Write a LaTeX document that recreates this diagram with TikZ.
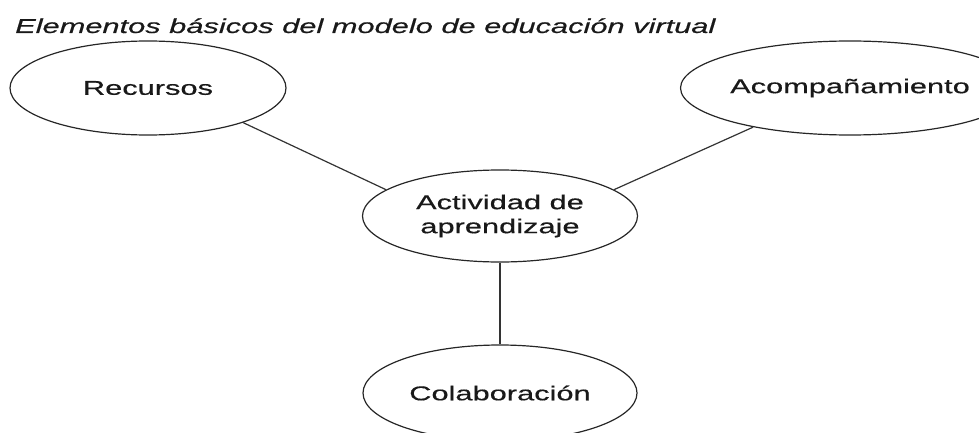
\documentclass[tikz,border=0pt]{standalone}
\usepackage{fontspec}
\setmainfont{Liberation Sans}
\newfontfamily\labfont[FakeStretch=1.54,FakeBold=0.5]{Liberation Sans}
\usetikzlibrary{shapes.geometric}
\tikzset{
  elem/.style={ellipse, draw=black!85, line width=1.2pt, inner sep=0pt,
    font=\labfont\fontsize{20}{24}\selectfont, align=center, text=black!90},
  link/.style={draw=black!80, line width=1.2pt}
}
\begin{document}
\begin{tikzpicture}[x=1pt,y=1pt]
\useasboundingbox (0,0) rectangle (979,432);
\clip (0,0) rectangle (979,432);
\node[anchor=base west, inner sep=0pt, font=\labfont\itshape\fontsize{20}{24}\selectfont, text=black!90] (title) at (15,399) {Elementos básicos del modelo de educación virtual};
\node[elem, minimum width=276pt, minimum height=94pt] (rec) at (148,344) {Recursos};
\node[elem, minimum width=268pt, minimum height=94pt] (aco) at (850,344) {Acompañamiento};
\node[elem, minimum width=275pt, minimum height=92pt] (act) at (500,216) {Actividad de\\aprendizaje};
\node[elem, minimum width=274pt, minimum height=96pt] (col) at (500,39) {Colaboración};
\draw[link] (rec.-20) -- (act.167);
\draw[link] (aco.-158) -- (act.13);
\draw[link] (act.south) -- (col.north);
\end{tikzpicture}
\end{document}
